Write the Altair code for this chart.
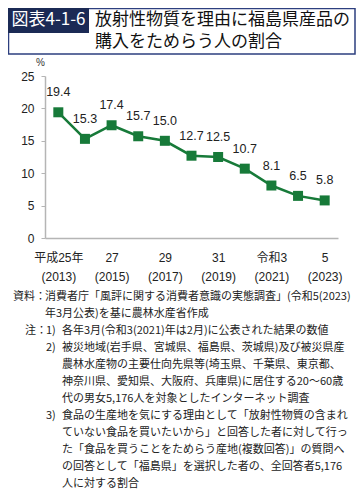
import altair as alt
import pandas as pd

# ---- data ----
years = [2013, 2014, 2015, 2016, 2017, 2018, 2019, 2020, 2021, 2022, 2023]
values = [19.4, 15.3, 17.4, 15.7, 15.0, 12.7, 12.5, 10.7, 8.1, 6.5, 5.8]

tick_years = [2013, 2015, 2017, 2019, 2021, 2023]
tick_era = ["平成25年", "27", "29", "31", "令和3", "5"]
tick_ad = ["(2013)", "(2015)", "(2017)", "(2019)", "(2021)", "(2023)"]

y_ticks = [0, 5, 10, 15, 20, 25]

fig_label = "図表4-1-6"
title_lines = ["放射性物質を理由に福島県産品の", "購入をためらう人の割合"]

source_head = "資料："
source_lines = ["消費者庁「風評に関する消費者意識の実態調査」(令和5(2023)",
                "年3月公表)を基に農林水産省作成"]
note_head = "注："
note_nums = ["1)", "2)", "3)"]
note_num_rows = [0, 1, 5]   # line index at which each numbered note starts
note_lines = [
    "各年3月(令和3(2021)年は2月)に公表された結果の数値",
    "被災地域(岩手県、宮城県、福島県、茨城県)及び被災県産",
    "農林水産物の主要仕向先県等(埼玉県、千葉県、東京都、",
    "神奈川県、愛知県、大阪府、兵庫県)に居住する20～60歳",
    "代の男女5,176人を対象としたインターネット調査",
    "食品の生産地を気にする理由として「放射性物質の含まれ",
    "ていない食品を買いたいから」と回答した者に対して行っ",
    "た「食品を買うことをためらう産地(複数回答)」の質問へ",
    "の回答として「福島県」を選択した者の、全回答者5,176",
    "人に対する割合",
]

df = pd.DataFrame({"year": years, "value": values})

FONT = "Liberation Sans, Noto Sans CJK JP, sans-serif"
JFONT = "Noto Sans CJK JP, sans-serif"
GREEN = "#177a39"
NAVY = "#1b2a55"

label_expr = ""
for y_, a, b in zip(tick_years, tick_era, tick_ad):
    label_expr += f"datum.value == {y_} ? ['{a}', '{b}'] : "
label_expr += "''"

W, H = 293, 162

x_enc = alt.X("year:Q",
              scale=alt.Scale(domain=[2012.5, 2023.5], nice=False, zero=False),
              axis=alt.Axis(values=tick_years, labelExpr=label_expr, title=None,
                            grid=False, ticks=False, tickSize=0, labelPadding=14,
                            labelLineHeight=19, labelFontSize=12, labelFont=FONT,
                            labelColor="#222", domainColor="#b5b5b5", domainWidth=1.5,
                            labelAlign="center", labelOverlap=False))
y_enc = alt.Y("value:Q",
              scale=alt.Scale(domain=[0, 25], nice=False),
              axis=alt.Axis(values=y_ticks, title="%", titleAngle=0, titleX=-5, titleY=-14,
                            titleAlign="center", titleBaseline="middle", titleFontWeight="normal",
                            titleFontSize=10, titleFont=FONT, titleColor="#333",
                            grid=False, tickSize=4, tickColor="#b5b5b5", domainColor="#b5b5b5",
                            domainWidth=1.5, labelPadding=7, labelFontSize=12, labelFont=FONT,
                            labelColor="#222", labelOverlap=False))

base = alt.Chart(df).encode(x=x_enc, y=y_enc)
line = base.mark_line(color=GREEN, strokeWidth=2.5)
pts = base.mark_square(color=GREEN, size=100, opacity=1)
labels = base.mark_text(dy=-20, fontSize=12.5, font=FONT, color="#222", baseline="middle").encode(
    text=alt.Text("value:Q", format=".1f"))

dummy = alt.Chart(alt.Data(values=[{}]))

box = dummy.mark_rect(fill="white", stroke="#2d3f7f", strokeWidth=1.5).encode(
    x=alt.value(-36.5), x2=alt.value(310), y=alt.value(-67.5), y2=alt.value(-22))
navy = dummy.mark_rect(fill=NAVY).encode(
    x=alt.value(-37), x2=alt.value(44), y=alt.value(-68), y2=alt.value(-43))
fig_txt = dummy.mark_text(text=fig_label, font=JFONT, fontSize=17, color="white",
                          align="center", baseline="middle").encode(
    x=alt.value(3.5), y=alt.value(-56))
title_txt = dummy.mark_text(text=title_lines, font=JFONT, fontSize=17, color="#111",
                            align="left", baseline="middle", lineHeight=22).encode(
    x=alt.value(50), y=alt.value(-56))

LH = 17
TXT = dict(font=JFONT, fontSize=11, color="#222", align="left", baseline="middle", lineHeight=LH)
src_head = dummy.mark_text(text=source_head, **TXT).encode(x=alt.value(-32), y=alt.value(221))
src_txt = dummy.mark_text(text=source_lines, **TXT).encode(x=alt.value(0), y=alt.value(221))
nt_head = dummy.mark_text(text=note_head, **TXT).encode(x=alt.value(-20), y=alt.value(255))
nt_nums = [dummy.mark_text(text=n, **TXT).encode(x=alt.value(1), y=alt.value(255 + r * LH))
           for n, r in zip(note_nums, note_num_rows)]
nt_txt = dummy.mark_text(text=note_lines, **TXT).encode(x=alt.value(17), y=alt.value(255))

chart = alt.layer(
    box, navy, fig_txt, title_txt,
    line, pts, labels,
    src_head, src_txt, nt_head, *nt_nums, nt_txt,
).properties(
    width=W, height=H,
    autosize=alt.AutoSizeParams(type="none"),
    padding={"left": 37, "top": 68, "right": 18, "bottom": 484 - 68 - H},
).configure_view(stroke=None)

chart.save("out.html", embed_options={"renderer": "svg", "actions": False})
